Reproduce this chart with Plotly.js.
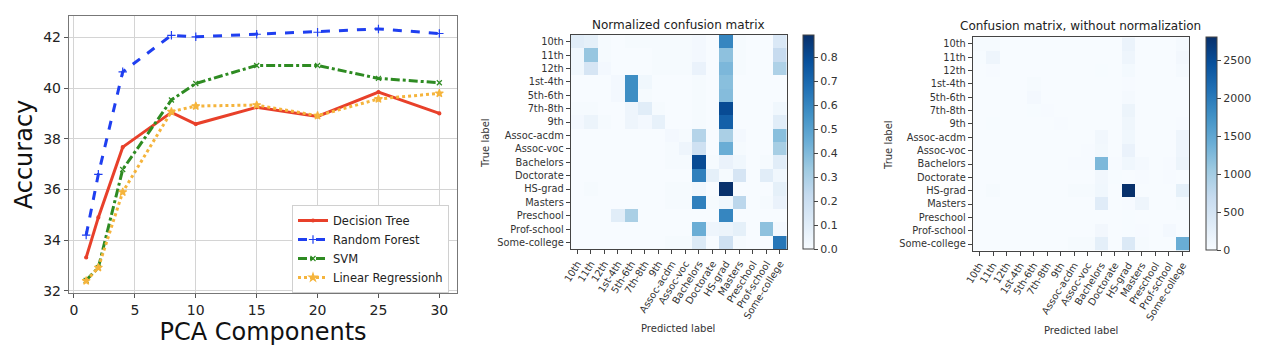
<!DOCTYPE html>
<html><head><meta charset="utf-8">
<script src="https://cdn.plot.ly/plotly-3.0.1.min.js"></script>
<style>html,body{margin:0;padding:0;background:#fff}#chart{width:1263px;height:359px}</style>
</head><body><div id="chart"></div>
<script>
// ---- Line chart data ----
const pcaComponents = [1, 2, 4, 8, 10, 15, 20, 25, 30];
const decisionTree = [33.32, 34.9, 37.67, 39.04, 38.58, 39.24, 38.88, 39.84, 39.0];
const randomForest = [34.2, 36.6, 40.64, 42.08, 42.02, 42.12, 42.2, 42.33, 42.15];
const svm = [32.42, 32.92, 36.79, 39.53, 40.18, 40.89, 40.89, 40.38, 40.21];
const linearRegression = [32.4, 32.92, 35.9, 39.07, 39.29, 39.33, 38.91, 39.57, 39.79];

// ---- Confusion matrix data ----
const labels = ["10th","11th","12th","1st-4th","5th-6th","7th-8th","9th","Assoc-acdm","Assoc-voc","Bachelors","Doctorate","HS-grad","Masters","Preschool","Prof-school","Some-college"];
const normalizedMatrix = [
  [0.10,0.08,0.01,0,0.01,0.01,0.01,0.01,0.01,0.02,0,0.60,0.01,0,0,0.13],
  [0.03,0.35,0.01,0,0,0,0.01,0.01,0.01,0.02,0,0.37,0.01,0,0,0.22],
  [0.03,0.15,0.02,0,0,0,0.01,0.01,0.01,0.06,0,0.41,0.01,0,0,0.29],
  [0,0,0,0.02,0.57,0.03,0,0,0,0.01,0,0.38,0,0,0,0],
  [0,0,0,0.02,0.57,0.01,0,0,0,0.01,0,0.39,0,0,0,0],
  [0.01,0.01,0,0,0.04,0.10,0.01,0,0,0.01,0,0.80,0,0,0,0.03],
  [0.02,0.05,0.01,0,0.04,0.02,0.07,0,0,0.01,0,0.73,0,0,0,0.10],
  [0,0,0,0,0,0,0,0.02,0.01,0.27,0,0.30,0.02,0,0,0.38],
  [0,0,0,0,0,0,0,0.01,0.04,0.18,0,0.45,0.01,0,0,0.31],
  [0,0,0,0,0,0,0,0.01,0.01,0.80,0.01,0.06,0.03,0,0.01,0.10],
  [0,0,0,0,0,0,0,0,0,0.62,0.08,0.01,0.15,0,0.10,0.03],
  [0,0.01,0,0,0,0,0,0.01,0.01,0.03,0,0.89,0,0,0,0.08],
  [0,0,0,0,0,0,0,0.01,0.01,0.62,0.01,0.03,0.25,0,0.01,0.06],
  [0,0,0,0.10,0.30,0,0,0,0,0,0,0.60,0,0,0,0],
  [0,0,0,0,0,0,0,0,0,0.45,0.04,0.05,0.08,0,0.37,0.02],
  [0,0,0,0,0,0,0,0.01,0.01,0.12,0,0.18,0.01,0,0,0.65]
];
const countMatrix = [
  [28,22,3,0,3,3,3,3,3,6,0,168,3,0,0,36],
  [10,122,4,0,0,0,4,4,4,7,0,130,4,0,0,77],
  [4,20,3,0,0,0,1,1,1,8,0,53,1,0,0,38],
  [0,0,0,1,28,2,0,0,0,1,0,19,0,0,0,0],
  [0,0,0,2,57,1,0,0,0,1,0,39,0,0,0,0],
  [2,2,0,0,8,20,2,0,0,2,0,156,0,0,0,6],
  [3,8,2,0,6,3,11,0,0,2,0,113,0,0,0,15],
  [0,0,0,0,0,0,0,6,3,86,0,96,6,0,0,122],
  [0,0,0,0,0,0,0,4,17,75,0,187,4,0,0,129],
  [0,0,0,0,0,0,0,16,16,1280,16,96,48,0,16,160],
  [0,0,0,0,0,0,0,0,0,78,10,1,19,0,12,4],
  [0,32,0,0,0,0,0,32,32,95,0,2800,0,0,0,252],
  [0,0,0,0,0,0,0,5,5,320,5,15,129,0,5,31],
  [0,0,0,2,5,0,0,0,0,0,0,9,0,0,0,0],
  [0,0,0,0,0,0,0,0,0,77,7,8,14,0,63,3],
  [0,0,0,0,0,0,0,22,22,262,0,393,22,0,0,1420]
];
const normTicks = [0,0.1,0.2,0.3,0.4,0.5,0.6,0.7,0.8];
const countTicks = [0,500,1000,1500,2000,2500];

const W = 1263, H = 359;
const px = v => v / W, py = v => 1 - v / H;
const blues = [[0,'#f7fbff'],[0.125,'#deebf7'],[0.25,'#c6dbef'],[0.375,'#9ecae1'],[0.5,'#6baed6'],[0.625,'#4292c6'],[0.75,'#2171b5'],[0.875,'#08519c'],[1,'#08306b']];
const F = 'DejaVu Sans, sans-serif';
const txt = '#333';

function lineTrace(y, name, color, dash, symbol, msize) {
  return {x: pcaComponents, y: y, name: name, type: 'scatter', mode: 'lines+markers',
    line: {color: color, width: 3, dash: dash},
    marker: {symbol: symbol, size: msize, color: color, line: {color: color, width: 1.2}},
    xaxis: 'x', yaxis: 'y'};
}

const data = [
  lineTrace(decisionTree, 'Decision Tree', '#e8402a', 'solid', 'circle', 3),
  lineTrace(randomForest, 'Random Forest', '#1f3ff0', 'dash', 'cross-thin-open', 6),
  lineTrace(svm, 'SVM', '#2e8b22', 'dashdot', 'x-thin-open', 5),
  lineTrace(linearRegression, 'Linear Regressionh', '#f5b43c', 'dot', 'star', 6),
  {type: 'heatmap', x: labels, y: labels, z: normalizedMatrix, xaxis: 'x2', yaxis: 'y2',
   colorscale: blues, zmin: 0, zmax: 0.893, showlegend: false, hoverinfo: 'skip',
   colorbar: {x: px(803), xanchor: 'left', y: py(35), yanchor: 'top', len: 214, lenmode: 'pixels',
     thickness: 11, xpad: 0, ypad: 0, outlinewidth: 1, outlinecolor: '#444',
     tickvals: normTicks, tickformat: '.1f', ticks: 'outside', ticklen: 4, tickcolor: '#444',
     tickfont: {family: F, size: 11, color: txt}}},
  {type: 'heatmap', x: labels, y: labels, z: countMatrix, xaxis: 'x3', yaxis: 'y3',
   colorscale: blues, zmin: 0, zmax: 2806, showlegend: false, hoverinfo: 'skip',
   colorbar: {x: px(1206), xanchor: 'left', y: py(37.3), yanchor: 'top', len: 213, lenmode: 'pixels',
     thickness: 11, xpad: 0, ypad: 0, outlinewidth: 1, outlinecolor: '#444',
     tickvals: countTicks, ticks: 'outside', ticklen: 4, tickcolor: '#444',
     tickfont: {family: F, size: 11, color: txt}}}
];

function hmX(domain) {
  return {domain: domain, type: 'category', tickangle: -58, ticks: 'outside', ticklen: 4, tickcolor: '#444',
    tickfont: {family: F, size: 9.8, color: txt}, showline: true, mirror: true, linecolor: '#444', linewidth: 1,
    showgrid: false, zeroline: false, fixedrange: true};
}
function hmY(domain, anchor) {
  return {domain: domain, anchor: anchor, type: 'category', autorange: 'reversed', ticks: 'outside', ticklen: 4, tickcolor: '#444',
    tickfont: {family: F, size: 9.8, color: txt}, showline: true, mirror: true, linecolor: '#444', linewidth: 1,
    showgrid: false, zeroline: false, fixedrange: true};
}

const layout = {
  width: W, height: H, margin: {l: 0, r: 0, t: 0, b: 0},
  paper_bgcolor: '#fff', plot_bgcolor: '#fff', showlegend: true,
  font: {family: F, color: '#222'},
  xaxis: {domain: [px(69), px(457)], anchor: 'y', range: [-0.41, 31.45], tickvals: [0,5,10,15,20,25,30],
    ticks: 'outside', ticklen: 4, tickcolor: '#555', tickfont: {family: F, size: 14, color: '#222'},
    showgrid: true, gridcolor: '#d4d4d4', gridwidth: 1, zeroline: false,
    showline: true, mirror: true, linecolor: '#777', linewidth: 1.2,
    title: {text: 'PCA Components', font: {family: F, size: 24, color: '#111'}, standoff: 4}},
  yaxis: {domain: [py(293), py(16)], anchor: 'x', range: [31.92, 42.84], tickvals: [32,34,36,38,40,42],
    ticks: 'outside', ticklen: 4, tickcolor: '#555', tickfont: {family: F, size: 14, color: '#222'},
    showgrid: true, gridcolor: '#d4d4d4', gridwidth: 1, zeroline: false,
    showline: true, mirror: true, linecolor: '#777', linewidth: 1.2,
    title: {text: 'Accuracy', font: {family: F, size: 24, color: '#111'}, standoff: 3}},
  xaxis2: Object.assign(hmX([px(570.7), px(786.7)]), {anchor: 'y2'}),
  yaxis2: hmY([py(249.3), py(35)], 'x2'),
  xaxis3: Object.assign(hmX([px(972.7), px(1189.3)]), {anchor: 'y3'}),
  yaxis3: hmY([py(250.7), py(37.3)], 'x3'),
  legend: {x: px(292), y: py(205), xanchor: 'left', yanchor: 'top', bgcolor: '#fff',
    bordercolor: '#d0d0d0', borderwidth: 1, font: {family: F, size: 11.5, color: '#222'},
    tracegroupgap: 0},
  annotations: [
    {text: 'Normalized confusion matrix', x: px(678), y: py(25), xref: 'paper', yref: 'paper', showarrow: false,
     xanchor: 'center', yanchor: 'middle', font: {family: F, size: 12, color: '#222'}},
    {text: 'Confusion matrix, without normalization', x: px(1080), y: py(26), xref: 'paper', yref: 'paper', showarrow: false,
     xanchor: 'center', yanchor: 'middle', font: {family: F, size: 12, color: '#222'}},
    {text: 'True label', x: px(485), y: py(143), xref: 'paper', yref: 'paper', showarrow: false, textangle: -90,
     xanchor: 'center', yanchor: 'middle', font: {family: F, size: 10, color: txt}},
    {text: 'Predicted label', x: px(678), y: py(328), xref: 'paper', yref: 'paper', showarrow: false,
     xanchor: 'center', yanchor: 'middle', font: {family: F, size: 10, color: txt}},
    {text: 'True label', x: px(888), y: py(145), xref: 'paper', yref: 'paper', showarrow: false, textangle: -90,
     xanchor: 'center', yanchor: 'middle', font: {family: F, size: 10, color: txt}},
    {text: 'Predicted label', x: px(1081), y: py(330), xref: 'paper', yref: 'paper', showarrow: false,
     xanchor: 'center', yanchor: 'middle', font: {family: F, size: 10, color: txt}}
  ]
};

Plotly.newPlot('chart', data, layout, {displayModeBar: false, staticPlot: true});
</script>
</body></html>
